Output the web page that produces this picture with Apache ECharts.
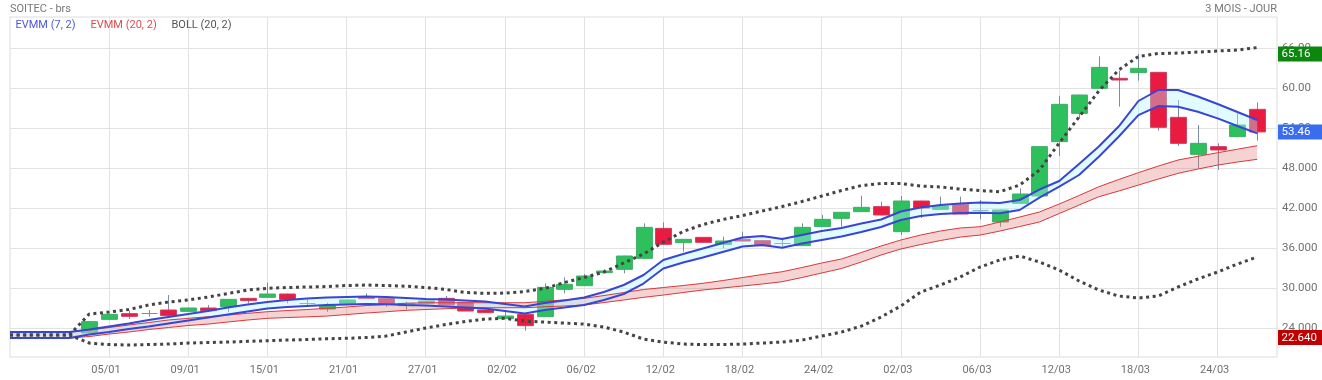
<!DOCTYPE html>
<html><head><meta charset="utf-8">
<script src="https://cdn.jsdelivr.net/npm/echarts@6/dist/echarts.min.js"></script>
<style>html,body{margin:0;padding:0;background:#fff}#c{width:1322px;height:380px}</style>
</head><body><div id="c"></div>
<script>
const dates = ['26/12','29/12','30/12','31/12','02/01','05/01','06/01','07/01','08/01','09/01','12/01','13/01','14/01','15/01','16/01','19/01','20/01','21/01','22/01','23/01','26/01','27/01','28/01','29/01','30/01','02/02','03/02','04/02','05/02','06/02','09/02','10/02','11/02','12/02','13/02','16/02','17/02','18/02','19/02','20/02','23/02','24/02','25/02','26/02','27/02','02/03','03/03','04/03','05/03','06/03','09/03','10/03','11/03','12/03','13/03','16/03','17/03','18/03','19/03','20/03','23/03','24/03','25/03','26/03','27/03'];

const open = [null,null,null,null,23.3,25.35,26.2,26.25,26.75,26.55,27.05,27.25,28.5,28.65,29.15,27.85,26.9,27.75,28.75,28.5,27.4,27.75,28.5,27.9,26.75,25.45,26.1,25.75,29.85,30.4,32.35,32.85,34.5,39.0,36.85,37.65,36.6,37.35,37.15,36.85,36.4,39.25,40.5,41.5,42.25,38.5,43.1,41.85,42.6,41.75,39.95,42.75,43.85,52.0,56.25,60.0,61.5,62.35,62.4,55.65,50.1,51.25,52.75,56.85,null];
const close = [null,null,null,null,25.0,26.1,25.8,26.25,25.9,27.05,26.65,28.35,28.15,29.15,28.35,27.85,27.4,28.25,28.45,27.6,27.75,28.1,27.5,26.6,26.35,25.85,24.4,30.15,30.6,31.85,32.6,34.85,39.15,36.6,37.35,36.9,37.1,37.1,36.4,36.85,39.15,40.35,41.4,42.15,41.0,43.1,42.05,42.35,41.15,41.75,41.75,44.15,51.25,57.6,59.0,63.15,61.25,63.0,54.15,51.75,51.75,50.75,54.5,53.46,null];
const low = [null,null,null,null,23.2,25.3,25.4,25.75,25.85,26.5,26.6,26.4,27.75,28.6,27.75,27.35,26.5,27.7,28.4,27.25,26.85,27.7,27.45,26.55,26.3,25.4,23.65,25.7,29.25,30.35,32.3,32.25,34.45,36.55,35.5,36.85,36.0,37.05,36.35,36.25,36.35,39.2,39.25,41.45,40.95,38.0,40.55,41.8,41.1,40.35,39.25,42.7,43.8,49.85,55.5,59.95,57.25,61.15,53.65,51.35,48.0,47.75,52.7,52.15,null];
const high = [null,null,null,null,25.1,26.2,26.6,26.75,29.0,27.1,27.5,28.4,28.55,30.85,29.2,28.35,27.85,28.3,29.25,28.55,28.0,28.15,28.85,27.95,26.8,26.65,26.15,30.75,31.65,32.15,32.85,34.9,39.75,39.9,37.4,37.7,37.75,38.5,37.2,37.6,39.75,41.0,41.45,43.9,43.0,43.85,43.15,43.75,43.75,43.25,41.8,45.0,51.3,58.85,59.05,64.8,62.65,65.16,62.45,58.25,54.5,51.75,56.25,57.9,null];

const evmm7Upper = [23.45,23.45,23.45,23.45,23.82,24.27,24.72,25.25,25.70,26.15,26.60,27.12,27.57,27.95,28.25,28.47,28.62,28.70,28.77,28.70,28.55,28.40,28.32,28.17,28.02,27.65,27.27,27.80,28.17,28.62,29.45,30.50,32.00,34.25,35.15,35.97,36.80,37.62,37.85,37.40,38.00,38.60,39.05,39.72,40.32,41.52,42.12,42.50,42.72,42.87,42.80,43.25,44.82,46.10,48.65,51.27,54.27,58.10,59.75,59.75,58.77,57.65,56.45,55.25,null];
const evmm7Lower = [22.55,22.55,22.55,22.55,23.07,23.45,23.90,24.27,24.72,25.17,25.62,26.07,26.52,26.97,27.20,27.35,27.50,27.57,27.65,27.60,27.50,27.42,27.27,27.12,26.97,26.60,26.22,26.75,27.12,27.50,28.25,29.15,30.72,32.97,33.87,34.62,35.45,36.27,36.50,36.09,36.72,37.25,37.77,38.45,39.20,40.25,40.85,41.15,41.30,41.34,41.25,41.75,43.62,45.24,47.00,49.74,52.74,55.99,57.34,57.24,56.49,55.50,54.35,53.25,null];
const evmm20Upper = [23.45,23.45,23.45,23.45,23.75,24.12,24.50,24.87,25.25,25.50,25.74,26.00,26.25,26.49,26.67,26.82,27.00,27.20,27.42,27.57,27.76,27.84,27.84,27.84,27.84,27.84,27.84,28.05,28.27,28.50,28.92,29.37,29.82,30.12,30.42,30.75,31.17,31.62,32.07,32.49,33.12,33.80,34.40,35.37,36.35,37.25,38.00,38.60,39.05,39.24,39.95,40.70,41.45,42.65,43.92,45.24,46.32,47.35,48.34,49.25,49.80,50.34,50.87,51.39,null];
const evmm20Lower = [22.55,22.55,22.55,22.55,22.77,23.14,23.45,23.82,24.12,24.42,24.64,24.95,25.25,25.50,25.62,25.72,25.84,26.07,26.30,26.49,26.70,26.82,26.94,27.05,27.09,27.09,27.09,27.23,27.35,27.50,27.87,28.25,28.65,28.99,29.37,29.75,30.05,30.35,30.65,30.99,31.62,32.30,32.97,33.95,35.00,35.90,36.57,37.17,37.69,37.99,38.59,39.27,39.95,41.22,42.49,43.74,44.59,45.49,46.39,47.25,47.89,48.49,48.95,49.35,null];
const bollUpper = [23.0,23.0,23.0,23.0,26.14,26.44,26.82,27.50,27.94,28.25,28.69,29.22,29.74,30.00,30.12,30.20,30.27,30.42,30.49,30.42,30.32,30.12,29.85,29.37,29.25,29.29,29.52,29.97,30.87,31.62,32.44,33.80,35.14,36.94,38.52,39.57,40.32,40.92,41.60,42.27,43.02,43.84,44.67,45.42,45.72,45.72,45.34,45.20,44.89,44.67,44.49,45.49,47.74,51.80,55.70,59.60,62.74,64.77,65.22,65.29,65.44,65.60,65.74,66.12,null];
const bollLower = [23.0,23.0,23.0,23.0,21.79,21.57,21.49,21.57,21.64,21.79,21.87,21.94,22.05,22.14,22.24,22.32,22.44,22.50,22.62,22.84,23.44,24.04,24.57,25.02,25.39,25.50,25.09,24.94,24.79,24.64,24.19,23.44,22.39,21.94,21.64,21.57,21.57,21.64,21.79,21.94,22.24,22.84,23.44,24.34,25.70,27.35,29.44,30.50,31.70,33.20,34.25,34.85,33.95,32.74,31.10,29.74,28.85,28.55,28.85,30.20,31.40,32.45,33.65,34.70,null];

const yTicks = [24, 30, 36, 42, 48, 54, 60, 66];
const periodHigh = 65.16, lastClose = 53.46, periodLow = 22.64;

const chart = echarts.init(document.getElementById('c'), null, {renderer: 'canvas'});
const FONT = 'Roboto, "Noto Sans", sans-serif';
const labelIdx = (i) => i >= 5 && (i - 1) % 4 === 0;

const candleData = [];
for (let i = 0; i < dates.length; i++) {
  if (open[i] != null) candleData.push([i, open[i], close[i], low[i], high[i]]);
}

function renderCandle(params, api) {
  const i = api.value(0);
  const o = api.value(1), c = api.value(2), l = api.value(3), h = api.value(4);
  const w = api.size([1, 0])[0] * 0.8;
  const x = Math.round(api.coord([i, o])[0]) + 0.5;
  const yO = api.coord([i, o])[1], yC = api.coord([i, c])[1];
  const yL = api.coord([i, l])[1], yH = api.coord([i, h])[1];
  const children = [{type: 'line', shape: {x1: x, y1: yH, x2: x, y2: yL}, style: {stroke: '#7b8da6', lineWidth: 1}}];
  if (o === c) {
    const yy = Math.round(yO) + 0.5;
    children.push({type: 'line', shape: {x1: x - w / 2, y1: yy, x2: x + w / 2, y2: yy}, style: {stroke: '#7b8da6', lineWidth: 1}});
  } else {
    const up = c > o;
    const top = Math.min(yO, yC);
    const hgt = Math.max(Math.abs(yO - yC), 1.5);
    children.push({type: 'rect', shape: {x: x - w / 2, y: top, width: w, height: hgt},
      style: {fill: up ? '#2dc05c' : '#ea1b40', stroke: up ? '#40ad6a' : '#cc3d5f', lineWidth: 1}});
  }
  return {type: 'group', children};
}

function bandRenderer(upper, lower, fill) {
  return function (params, api) {
    const pts = [];
    for (let i = 0; i < upper.length; i++) if (upper[i] != null) pts.push(api.coord([i, upper[i]]));
    for (let i = lower.length - 1; i >= 0; i--) if (lower[i] != null) pts.push(api.coord([i, lower[i]]));
    return {type: 'polygon', shape: {points: pts}, style: {fill: fill}};
  };
}

function lineSeries(data, color, width, type, z) {
  return {type: 'line', data: data, xAxisIndex: 0, yAxisIndex: 0, showSymbol: false, symbol: 'none',
    lineStyle: {color: color, width: width, type: type, cap: 'butt'}, z: z, silent: true, connectNulls: false};
}

const option = {
  animation: false,
  backgroundColor: '#fff',
  grid: [
    {left: 10, right: 45, top: 17, bottom: 23, show: true, borderColor: '#dcdcdc', borderWidth: 1, backgroundColor: 'transparent', containLabel: false, outerBoundsMode: 'none'},
    {left: 10, right: 45, top: 8.333, bottom: 11.667, show: false, containLabel: false, outerBoundsMode: 'none'}
  ],
  xAxis: [
    {type: 'category', gridIndex: 0, data: dates, boundaryGap: false,
      axisLine: {show: false}, axisTick: {show: false},
      axisLabel: {interval: (i) => labelIdx(i), color: '#707070', fontSize: 11, fontFamily: FONT, margin: 8, padding: [0, 6, 0, 0]},
      splitLine: {show: true, interval: (i) => labelIdx(i), lineStyle: {color: '#e2e2e2', width: 1}}},
    {type: 'value', gridIndex: 1, min: 0, max: 1, show: false}
  ],
  yAxis: [
    {type: 'value', gridIndex: 0, min: 19.7, max: 70.7, position: 'right', show: false, splitLine: {show: false}},
    {type: 'value', gridIndex: 1, min: 18, max: 72, interval: 6, position: 'right',
      axisLine: {show: false}, axisTick: {show: false},
      axisLabel: {showMinLabel: false, showMaxLabel: false, color: '#707070', fontSize: 11.5, fontFamily: FONT, margin: 5,
        padding: [0, 0, 5, 0],
        formatter: (v) => (v >= 50 ? v.toFixed(2) : v.toFixed(3))},
      splitLine: {show: true, lineStyle: {color: ['rgba(0,0,0,0)', '#e2e2e2', '#e2e2e2', '#e2e2e2', '#e2e2e2', '#e2e2e2', '#e2e2e2', '#e2e2e2', '#e2e2e2', 'rgba(0,0,0,0)'], width: 1}}}
  ],
  series: [
    {type: 'custom', name: 'candles', xAxisIndex: 0, yAxisIndex: 0, data: candleData, renderItem: renderCandle, z: 2, clip: true, silent: true,
      encode: {x: 0, y: [1, 2, 3, 4]}},
    {type: 'custom', name: 'band20', xAxisIndex: 0, yAxisIndex: 0, data: [[0, 30]], renderItem: bandRenderer(evmm20Upper, evmm20Lower, 'rgba(222,110,110,0.30)'), z: 3, silent: true, encode: {x: 0, y: 1}},
    {type: 'custom', name: 'band7', xAxisIndex: 0, yAxisIndex: 0, data: [[0, 30]], renderItem: bandRenderer(evmm7Upper, evmm7Lower, 'rgba(175,245,255,0.38)'), z: 3, silent: true, encode: {x: 0, y: 1}},
    lineSeries(evmm20Upper, '#d9393c', 1, 'solid', 4),
    lineSeries(evmm20Lower, '#d9393c', 1, 'solid', 4),
    lineSeries(evmm7Upper, '#3845d6', 2, 'solid', 5),
    lineSeries(evmm7Lower, '#3845d6', 2, 'solid', 5),
    lineSeries(bollUpper, '#444444', 3, [3, 3.6], 6),
    lineSeries(bollLower, '#444444', 3, [3, 3.6], 6)
  ]
};
chart.setOption(option);

const yOf = (v) => chart.convertToPixel({yAxisIndex: 0}, v);
function badge(value, text, bg) {
  const yc = yOf(value);
  return [
    {type: 'rect', shape: {x: 1278, y: yc - 7.5, width: 44, height: 15}, style: {fill: bg}, z: 100},
    {type: 'text', x: 1281.5, y: yc + 0.5, style: {text: text, fill: '#fff', font: '11.5px ' + FONT, textVerticalAlign: 'middle', textAlign: 'left'}, z: 101}
  ];
}
const t = (x, y, text, color, align) => ({type: 'text', x: x, y: y, z: 50,
  style: {text: text, fill: color, font: '11px ' + FONT, textVerticalAlign: 'middle', textAlign: align || 'left'}});

chart.setOption({
  graphic: [
    t(10, 9, 'SOITEC - brs', '#777777'),
    t(1277, 9, '3 MOIS - JOUR', '#777777', 'right'),
    t(15.5, 25, 'EVMM (7, 2)', '#4d57d8'),
    t(90.5, 25, 'EVMM (20, 2)', '#dd4d4d'),
    t(171.5, 25, 'BOLL (20, 2)', '#555555'),
    ...badge(periodHigh, periodHigh.toFixed(2), '#0d860d'),
    ...badge(lastClose, lastClose.toFixed(2), '#3a6cf0'),
    ...badge(periodLow, periodLow.toFixed(3), '#c00000')
  ]
});
</script>
</body></html>
